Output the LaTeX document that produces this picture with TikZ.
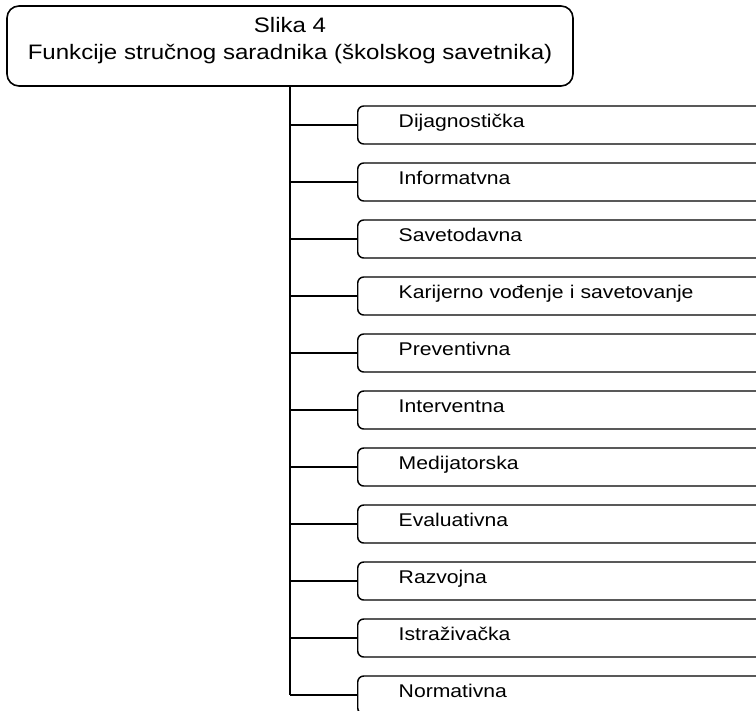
\documentclass[tikz,border=0pt]{standalone}
\usepackage{fontspec}
\setmainfont{Liberation Sans}[FakeStretch=1.15]
\begin{document}
\begin{tikzpicture}[x=0.75pt, y=-0.75pt, line join=round,
	topbox/.style={draw, line width=1.2pt, rounded corners=9pt, minimum width=424.5pt, minimum height=60pt, inner sep=0pt},
	kidbox/.style={draw, line width=1.1pt, rounded corners=4.5pt, anchor=west, minimum height=28.5pt, text width=270pt, inner xsep=30.75pt, align=left, text height=9pt, text depth=6pt, font=\fontsize{13.8}{16}\selectfont},
	trunk/.style={line width=2pt},
	twig/.style={line width=1pt}]
		\useasboundingbox (0,0) rectangle (756,710);
		\clip (0,0) rectangle (756,710);
		\node[topbox] (top) at (290,46) {};
		\node[font=\fontsize{15.7}{20.25}\selectfont, align=center] (title) at (290,41) {Slika 4\\Funkcije stručnog saradnika (školskog savetnika)};
		\foreach \name [count=\i from 0] in {Dijagnostička, Informatvna, Savetodavna, Karijerno vođenje i savetovanje, Preventivna, Interventna, Medijatorska, Evaluativna, Razvojna, Istraživačka, Normativna}{
			\node[kidbox] (k\i) at (357,125+57*\i) {\name};
			\path (top.south |- k\i.west) coordinate (j\i);
			\draw[twig] (j\i) -- (k\i.west);
		}
		\draw[trunk] (top.south) -- (j10);
		\end{tikzpicture}
\end{document}
